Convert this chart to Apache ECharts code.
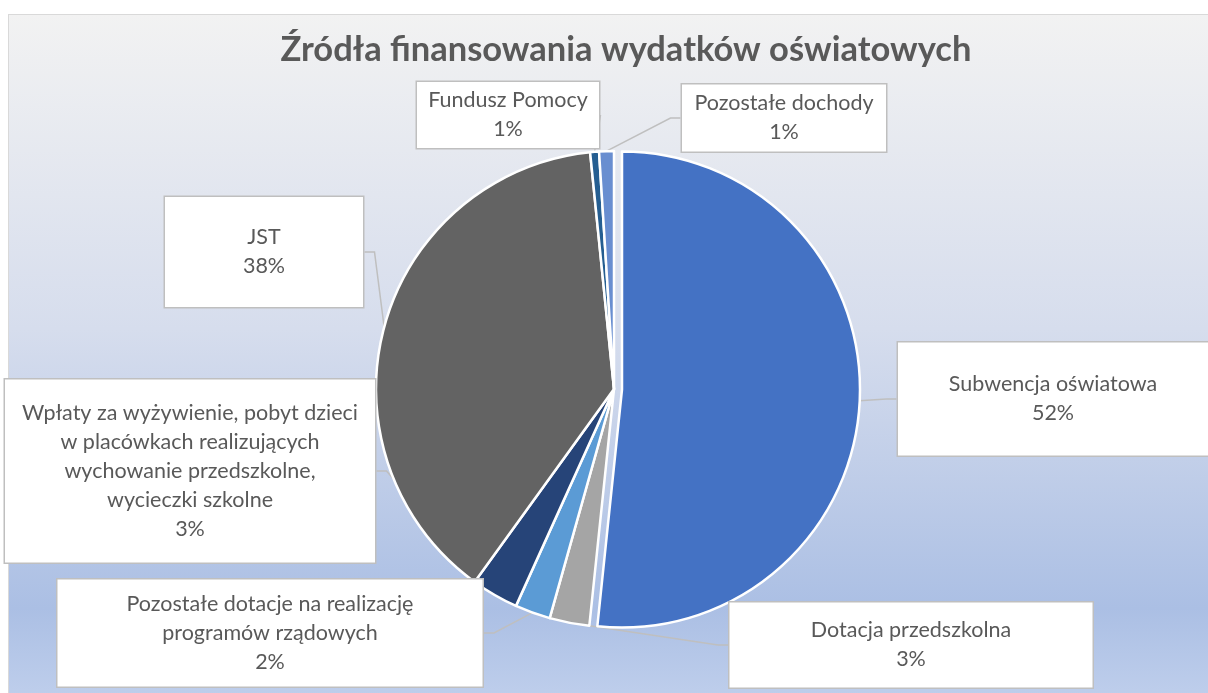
<!DOCTYPE html>
<html>
<head>
<meta charset="utf-8">
<script src="https://cdn.jsdelivr.net/npm/echarts@6/dist/echarts.min.js"></script>
<style>
  html, body { margin: 0; padding: 0; background: #fff; overflow: hidden; }
  #frame {
    position: absolute; left: 8px; top: 14px; width: 1220px; height: 700px;
    border: 1px solid #D9D9D9; box-sizing: border-box;
    background: linear-gradient(to bottom, #F2F2F2 0%, #D6DDED 45%, #ABBFE4 85%, #C2D1ED 100%);
  }
  #chart { position: absolute; left: 0; top: 0; width: 1208px; height: 693px; }
</style>
</head>
<body>
<div id="frame"></div>
<div id="chart"></div>
<script>
// Categories in clockwise order from 12 o'clock
const categories = [
  'Subwencja oświatowa',
  'Dotacja przedszkolna',
  'Pozostałe dotacje na realizację\nprogramów rządowych',
  'Wpłaty za wyżywienie, pobyt dzieci\nw placówkach realizujących\nwychowanie przedszkolne,\nwycieczki szkolne',
  'JST',
  'Fundusz Pomocy',
  'Pozostałe dochody'
];
const shares = [51.6, 2.7, 2.4, 3.2, 38.4, 0.6, 1.0];
const colors = ['#4472C4', '#A5A5A5', '#5B9BD5', '#264478', '#636363', '#255E91', '#698ED0'];
const explodedIndex = 0; // 'Subwencja oświatowa' is pulled out of the pie

// Callout boxes: [centerX, centerY, width, height] in page pixels
const calloutBoxes = [
  [1053, 399, 310, 113],
  [911, 645, 363, 85],
  [270, 633, 425, 107],
  [190, 471, 370, 183],
  [264, 252, 198, 110],
  [508, 115, 182, 66],
  [784, 118, 204, 67]
];

const LINE_H = 29;
const TEXT_SHIFT = 3; // text sits slightly low inside the callouts
const PIE_CENTER = [614, 389];
const EXPLODE = [8, 0.5];

const chart = echarts.init(document.getElementById('chart'));

const commonPie = {
  type: 'pie',
  radius: [0, 238],
  startAngle: 90,
  clockwise: true,
  emphasis: { disabled: true },
  silent: true
};

chart.setOption({
  backgroundColor: 'transparent',
  animation: false,
  title: {
    text: 'Źródła finansowania wydatków oświatowych',
    left: 621, top: 27, textAlign: 'center',
    textStyle: { fontFamily: 'Lato', fontSize: 34.5, fontWeight: 'bold', color: '#595959' }
  },
  series: [
    Object.assign({}, commonPie, {
      name: 'base',
      center: PIE_CENTER,
      itemStyle: { borderColor: '#FFFFFF', borderWidth: 2.5 },
      label: {
        show: true,
        position: 'outside',
        fontFamily: 'Lato',
        fontSize: 21.5,
        color: '#595959',
        lineHeight: LINE_H,
        align: 'center',
        backgroundColor: '#FFFFFF',
        borderColor: '#BFBFBF',
        borderWidth: 1.5,
        formatter: function (p) { return p.name + '\n' + Math.round(p.percent) + '%'; }
      },
      labelLine: { show: true, length: 10, length2: 10, lineStyle: { color: '#BFBFBF', width: 1.5 } },
      labelLayout: function (params) {
        const b = calloutBoxes[params.dataIndex];
        return { x: b[0], y: b[1], align: 'center', verticalAlign: 'middle' };
      },
      data: categories.map(function (name, i) {
        const b = calloutBoxes[i];
        const lines = name.split('\n').length + 1;
        const padV = Math.max(0, (b[3] - lines * LINE_H) / 2);
        return {
          name: name,
          value: shares[i],
          itemStyle: i === explodedIndex
            ? { color: 'transparent', borderWidth: 0 }
            : { color: colors[i] },
          label: { width: b[2], padding: [padV + TEXT_SHIFT, 0, padV - TEXT_SHIFT, 0] }
        };
      })
    }),
    Object.assign({}, commonPie, {
      name: 'exploded',
      center: [PIE_CENTER[0] + EXPLODE[0], PIE_CENTER[1] + EXPLODE[1]],
      label: { show: false },
      labelLine: { show: false },
      data: categories.map(function (name, i) {
        return {
          name: name,
          value: shares[i],
          itemStyle: i === explodedIndex
            ? { color: colors[i], borderColor: '#FFFFFF', borderWidth: 2.5 }
            : { color: 'transparent', borderWidth: 0 }
        };
      })
    })
  ]
});
</script>
</body>
</html>
